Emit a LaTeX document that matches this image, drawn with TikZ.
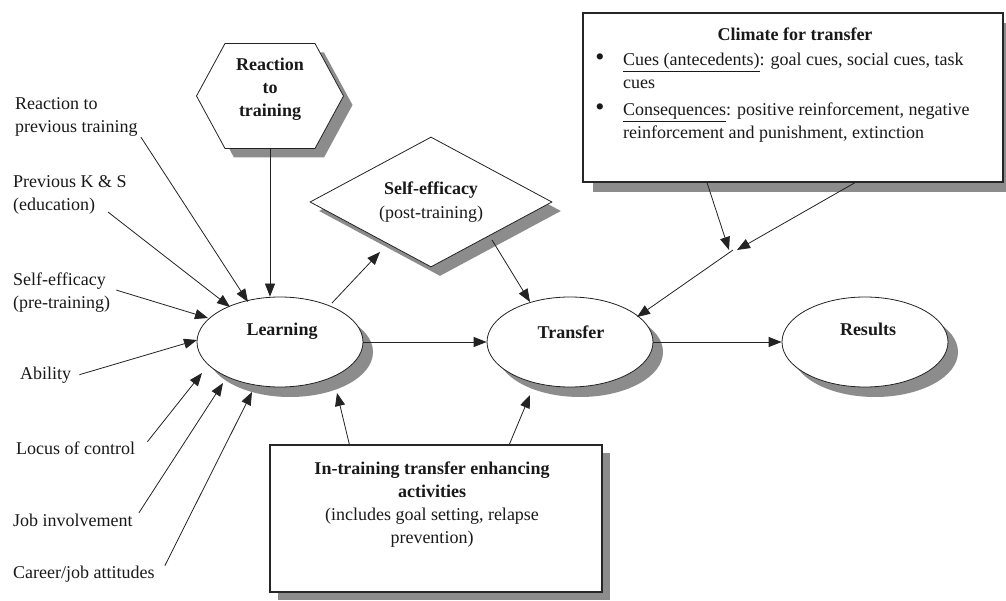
\documentclass[tikz,border=0pt]{standalone}
\usepackage{fontspec}
\setmainfont{Liberation Serif}
\usetikzlibrary{arrows.meta,positioning,calc,shapes.geometric,shapes.symbols,shadows}
\definecolor{shadegray}{RGB}{140,140,140}
\definecolor{linegray}{RGB}{35,35,35}
\tikzset{
  txt/.style={font=\fontsize{18}{23}\selectfont, inner sep=0pt, text=black!90},
  btxt/.style={txt, font=\fontsize{18}{23}\selectfont\bfseries},
  dot/.style={txt, font=\fontsize{26}{26}\selectfont},
  grayshadow/.style={drop shadow={shadow xshift=#1, shadow yshift=-#1, fill=shadegray, opacity=1}},
  ellnode/.style={ellipse, draw=linegray, line width=0.8pt, fill=white, minimum width=166pt,
    minimum height=90pt, inner sep=0pt, grayshadow=10pt},
  hexnode/.style={signal, signal to=east and west, signal pointer angle=123, draw=linegray,
    line width=0.8pt, fill=white, minimum width=147pt, minimum height=105pt, inner sep=0pt, grayshadow=9pt},
  dianode/.style={diamond, aspect=1.86, draw=linegray, line width=0.8pt, fill=white,
    minimum width=242pt, minimum height=130pt, inner sep=0pt, grayshadow=9pt},
  framebox/.style={rectangle, draw=black!85, line width=1.3pt, fill=white, inner sep=0pt},
  arr/.style={-{Triangle[length=13pt,width=10pt]}, line width=0.8pt, linegray}
}
\begin{document}
\begin{tikzpicture}[x=1pt,y=-1pt]
  \useasboundingbox[fill=white] (0,0) rectangle (1006,601);

  \node[framebox, grayshadow=10pt, minimum width=420pt, minimum height=169pt] (clim) at (793,97.5) {};
  \node[btxt, anchor=base] (climtitle) at (795,41) {Climate for transfer};
  \node[dot] (cuedot) at (600,60) {\textbullet};
  \node[txt, anchor=base west, align=left] (cue) at (623,89)
    {\underline{Cues (antecedents)}: goal cues, social cues, task\\cues};
  \node[dot] (consdot) at (600,110) {\textbullet};
  \node[txt, anchor=base west, align=left] (cons) at (623,139)
    {\underline{Consequences}: positive reinforcement, negative\\reinforcement and punishment, extinction};

  \node[framebox, grayshadow=8pt, minimum width=332pt, minimum height=147pt] (intr) at (436,518.5) {};
  \node[txt, anchor=base, align=center] (intrlbl) at (432,543)
    {\textbf{In-training transfer enhancing}\\\textbf{activities}\\(includes goal setting, relapse\\prevention)};

  \node[hexnode] (react) at (270,96) {};
  \node[btxt, anchor=base, align=center] (reactlbl) at (270,117) {Reaction\\to\\training};

  \node[dianode, txt, align=center] (seff) at (431,202) {\textbf{Self-efficacy}\\[1pt](post-training)};

  \node[ellnode] (learn) at (280,342) {};
  \node[btxt, anchor=base] (learnlbl) at (282,336) {Learning};
  \node[ellnode] (trans) at (570,342) {};
  \node[btxt, anchor=base] (translbl) at (571,338) {Transfer};
  \node[ellnode] (res) at (865,342) {};
  \node[btxt, anchor=base] (reslbl) at (868,336) {Results};

  \node[txt, anchor=base west, align=left] (rprev) at (15,133) {Reaction to\\previous training};
  \node[txt, anchor=base west, align=left] (prevks) at (13,211) {Previous K \& S\\(education)};
  \node[txt, anchor=base west, align=left] (sepre) at (13,309) {Self-efficacy\\(pre-training)};
  \node[txt, anchor=base west] (abil) at (20,379) {Ability};
  \node[txt, anchor=base west] (locus) at (16,454) {Locus of control};
  \node[txt, anchor=base west] (jobinv) at (13,526) {Job involvement};
  \node[txt, anchor=base west] (career) at (13,578) {Career/job attitudes};

  \coordinate (merge) at (733,250);

  \draw[arr] ([xshift=3pt]rprev.south east) -- ($(learn.center)+(-32,-40)$);
  \draw[arr] ([xshift=95pt,yshift=3pt]prevks.south west) -- ($(learn.center)+(-50,-35)$);
  \draw[arr] ([xshift=6pt,yshift=3pt]sepre.east) -- ($(learn.center)+(-72,-24)$);
  \draw[arr] ([xshift=8pt]abil.east) -- ($(learn.center)+(-83,-2)$);
  \draw[arr] ([xshift=12pt,yshift=6pt]locus.east) -- ($(learn.center)+(-78,31)$);
  \draw[arr] ([xshift=6pt,yshift=7pt]jobinv.east) -- ($(learn.center)+(-57,41)$);
  \draw[arr] ([xshift=10pt,yshift=8pt]career.east) -- ($(learn.center)+(-28,50)$);
  \draw[arr] (react.south) -- (react.south |- learn.north);

  \draw[arr] ($(learn.center)+(52,-39)$) -- ($(seff.center)+(-51,50)$);
  \draw[arr] ($(seff.center)+(61,38)$) -- ($(trans.center)+(-40,-40)$);
  \draw[arr] (learn.east) -- (trans.west);
  \draw[arr] (trans.east) -- (res.west);

  \draw[arr] ([xshift=-86pt]clim.south) -- ([xshift=-4pt]merge);
  \draw[arr] ([xshift=62pt]clim.south) -- ([xshift=4pt]merge);
  \draw[arr] (merge) -- ($(trans.center)+(67,-25)$);

  \draw[arr] ([xshift=80pt]intr.north west) -- ($(learn.center)+(57,51)$);
  \draw[arr] ([xshift=240pt]intr.north west) -- ($(trans.center)+(-40,53)$);
\end{tikzpicture}
\end{document}
